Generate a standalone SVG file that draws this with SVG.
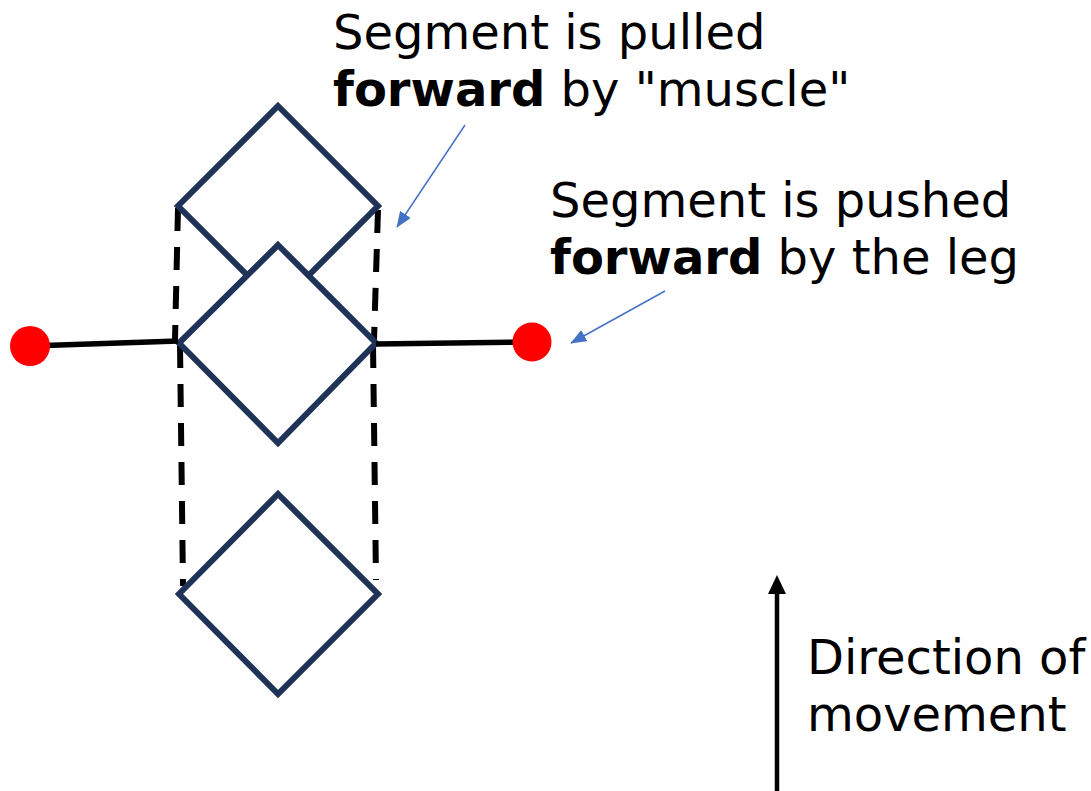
<svg xmlns="http://www.w3.org/2000/svg" width="1091" height="791" viewBox="0 0 1091 791">
<defs>
<style>
.seg{fill:#fff;stroke:#1F3257;stroke-width:6;stroke-linejoin:miter}
.dash{fill:none;stroke:#000;stroke-width:6;stroke-dasharray:23 16}
.leg{fill:none;stroke:#000;stroke-width:5.5}
.foot{fill:#FF0000}
.call{fill:none;stroke:#4472C4;stroke-width:1.5}
.t{font-family:"DejaVu Sans",sans-serif;font-size:48px;fill:#000}
.b{font-weight:bold}
</style>
<marker id="ab" viewBox="0 0 10 8" refX="9.5" refY="4" markerWidth="16" markerHeight="12.8" markerUnits="userSpaceOnUse" orient="auto">
<path d="M0,0 L10,4 L0,8 z" fill="#4472C4"/>
</marker>
</defs>
<rect width="1091" height="791" fill="#fff"/>
<g id="connectors">
<line class="dash" x1="178" y1="208" x2="175" y2="340"/>
<line class="dash" x1="180" y1="345" x2="183" y2="586"/>
<line class="dash" x1="378" y1="210" x2="374" y2="340"/>
<line class="dash" x1="373" y1="345" x2="376" y2="580"/>
<line class="call" x1="465" y1="125" x2="397" y2="227" marker-end="url(#ab)"/>
<line class="call" x1="665" y1="291" x2="571" y2="343" marker-end="url(#ab)"/>
<line x1="777" y1="791" x2="777" y2="590" stroke="#000" stroke-width="4.5"/>
<polygon points="777,575 768,594 786,594" fill="#000"/>
</g>
<g id="segment-top"><polygon class="seg" points="278,106 378,206 278,306 178,206"/></g>
<g id="segment-middle"><polygon class="seg" points="278,245 376,343 278,443 179,343"/></g>
<g id="segment-bottom"><polygon class="seg" points="278,494 378,594 278,694 179,594"/></g>
<g id="leg-left">
<line class="leg" x1="30" y1="346" x2="178" y2="341"/>
<circle class="foot" cx="30" cy="346" r="20"/>
</g>
<g id="leg-right">
<line class="leg" x1="376" y1="344" x2="531" y2="342"/>
<circle class="foot" cx="532" cy="342" r="19.5"/>
</g>
<g id="label-pulled">
<text class="t" x="333" y="49">Segment is pulled</text>
<text class="t" x="333" y="106"><tspan class="b">forward</tspan> by "muscle"</text>
</g>
<g id="label-pushed">
<text class="t" x="550" y="217">Segment is pushed</text>
<text class="t" x="550" y="274"><tspan class="b">forward</tspan> by the leg</text>
</g>
<g id="label-direction">
<text class="t" x="807" y="674">Direction of</text>
<text class="t" x="807" y="731">movement</text>
</g>
</svg>
